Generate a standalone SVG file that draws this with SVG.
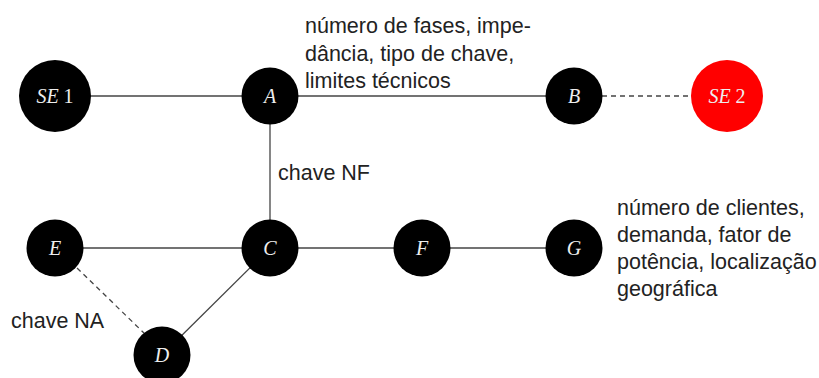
<svg xmlns="http://www.w3.org/2000/svg" width="819" height="378" viewBox="0 0 819 378">
<style>
.e{stroke:#444;stroke-width:1.3;fill:none}
.d{stroke-dasharray:5,4}
.n{fill:#000}
.r{fill:#ff0000}
.lb{font-family:"Liberation Serif",serif;font-style:italic;font-size:20px;fill:#eee;text-anchor:middle}
.up{font-style:normal}
.t{font-family:"Liberation Sans",Arial,sans-serif;font-size:21.5px;fill:#222}
</style>
<rect width="819" height="378" fill="#fff"/>
<g id="connectors">
<line class="e" x1="55" y1="96" x2="270" y2="96"/>
<line class="e" x1="270" y1="96" x2="574" y2="96"/>
<line class="e d" x1="602" y1="96" x2="691" y2="96"/>
<line class="e" x1="270" y1="96" x2="270" y2="248"/>
<line class="e" x1="55" y1="248" x2="270" y2="248"/>
<line class="e" x1="270" y1="248" x2="574" y2="248"/>
<line class="e" x1="270" y1="248" x2="162" y2="355"/>
<line class="e d" x1="77" y1="268" x2="145" y2="334"/>
</g>
<g id="SE1"><circle class="n" cx="55" cy="96" r="36"/><text class="lb" x="55" y="103">SE <tspan class="up">1</tspan></text></g>
<g id="A"><circle class="n" cx="270" cy="96" r="28.5"/><text class="lb" x="270" y="103">A</text></g>
<g id="B"><circle class="n" cx="574" cy="96" r="28.5"/><text class="lb" x="574" y="103">B</text></g>
<g id="SE2"><circle class="r" cx="727" cy="96" r="36"/><text class="lb" x="727" y="103">SE <tspan class="up">2</tspan></text></g>
<g id="E"><circle class="n" cx="55" cy="248" r="28.5"/><text class="lb" x="55" y="255">E</text></g>
<g id="C"><circle class="n" cx="270" cy="248" r="28.5"/><text class="lb" x="270" y="255">C</text></g>
<g id="F"><circle class="n" cx="422" cy="248" r="28.5"/><text class="lb" x="422" y="255">F</text></g>
<g id="G"><circle class="n" cx="574" cy="248" r="28.5"/><text class="lb" x="574" y="255">G</text></g>
<g id="D"><circle class="n" cx="162" cy="355" r="28.5"/><text class="lb" x="162" y="362">D</text></g>
<g id="labels">
<text class="t" x="305" y="33">número de fases, impe-</text>
<text class="t" x="305" y="61">dância, tipo de chave,</text>
<text class="t" x="305" y="88">limites técnicos</text>
<text class="t" x="278" y="180">chave NF</text>
<text class="t" x="11" y="328">chave NA</text>
<text class="t" x="617" y="215">número de clientes,</text>
<text class="t" x="617" y="242">demanda, fator de</text>
<text class="t" x="617" y="269">potência, localização</text>
<text class="t" x="617" y="296">geográfica</text>
</g>
</svg>
